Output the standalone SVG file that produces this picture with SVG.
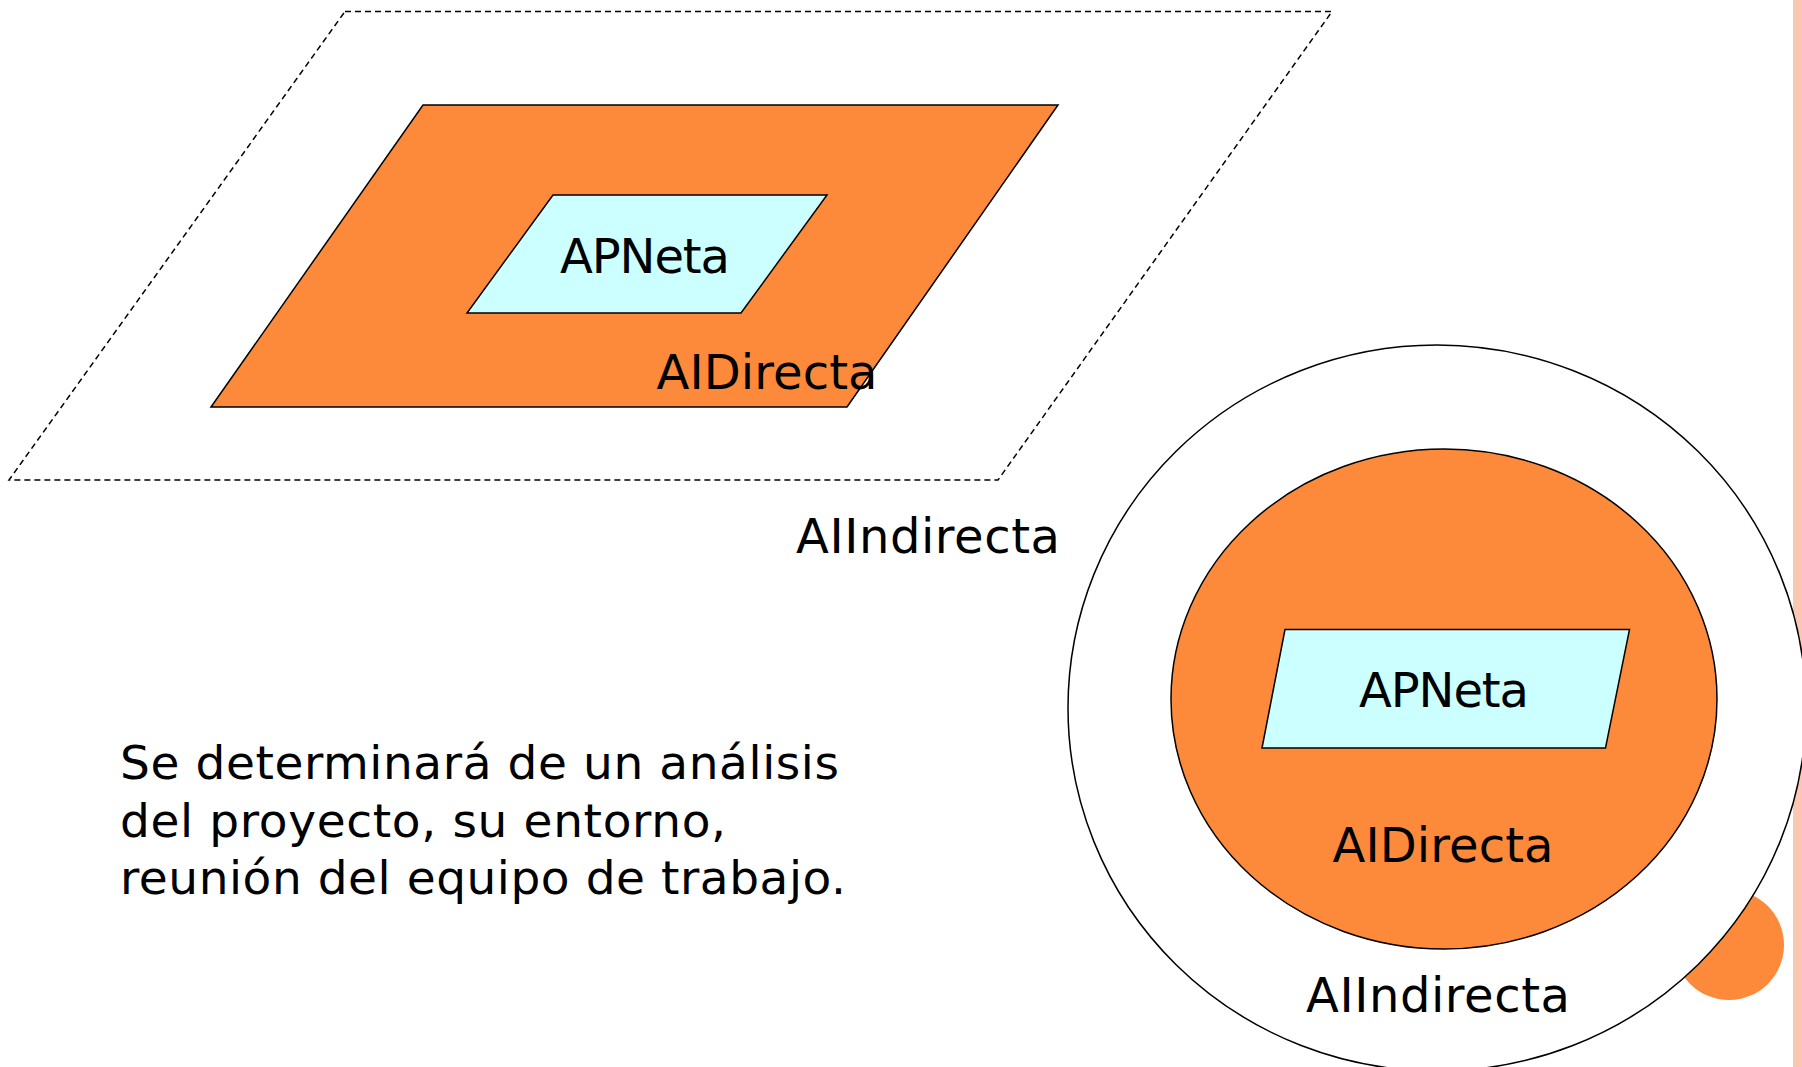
<svg xmlns="http://www.w3.org/2000/svg" width="1802" height="1067" viewBox="0 0 1802 1067">
<style>
.lbl{font-family:"DejaVu Sans","Liberation Sans",sans-serif;font-size:48px;fill:#000;text-anchor:middle}
.para{font-family:"DejaVu Sans","Liberation Sans",sans-serif;font-size:47px;fill:#000}
.org{fill:#FC8A3A;stroke:#000;stroke-width:1.5}
.cy{fill:#CCFFFF;stroke:#000;stroke-width:1.5}
</style>
<rect x="0" y="0" width="1802" height="1067" fill="#fff"/>
<rect x="1793" y="0" width="9" height="1067" fill="#FBC6B2"/>
<g id="deco-dot"><circle cx="1729" cy="945" r="55" fill="#FC8A3A"/></g>
<g id="outer-dashed">
<polygon points="345,11.5 1332,11.5 998,480 9,480" fill="none" stroke="#000" stroke-width="1.5" stroke-dasharray="6 4"/>
<text class="lbl" x="928" y="553" textLength="264">AIIndirecta</text>
</g>
<g id="orange-para">
<polygon class="org" points="423,105 1058,105 847,407 211,407"/>
</g>
<g id="cyan-para">
<polygon class="cy" points="553,195 827,195 741,313 467,313"/>
<text class="lbl" x="645" y="273" textLength="170">APNeta</text>
</g>
<text class="lbl" x="767" y="389" textLength="221">AIDirecta</text>
<g id="outer-circle">
<ellipse cx="1437" cy="708" rx="369" ry="363" fill="#fff" stroke="#000" stroke-width="1.5"/>
<text class="lbl" x="1438" y="1012" textLength="264">AIIndirecta</text>
</g>
<g id="inner-ellipse">
<ellipse class="org" cx="1444" cy="699" rx="273" ry="250"/>
<text class="lbl" x="1443" y="862" textLength="221">AIDirecta</text>
</g>
<g id="cyan-para-2">
<polygon class="cy" points="1285,629.5 1629.5,629.5 1605.5,748 1262,748"/>
<text class="lbl" x="1444" y="707" textLength="170">APNeta</text>
</g>
<g id="paragraph">
<text class="para" x="120" y="779" textLength="719">Se determinará de un análisis</text>
<text class="para" x="120" y="837" textLength="606">del proyecto, su entorno,</text>
<text class="para" x="120" y="894" textLength="726">reunión del equipo de trabajo.</text>
</g>
<g id="connectors"></g>
</svg>
